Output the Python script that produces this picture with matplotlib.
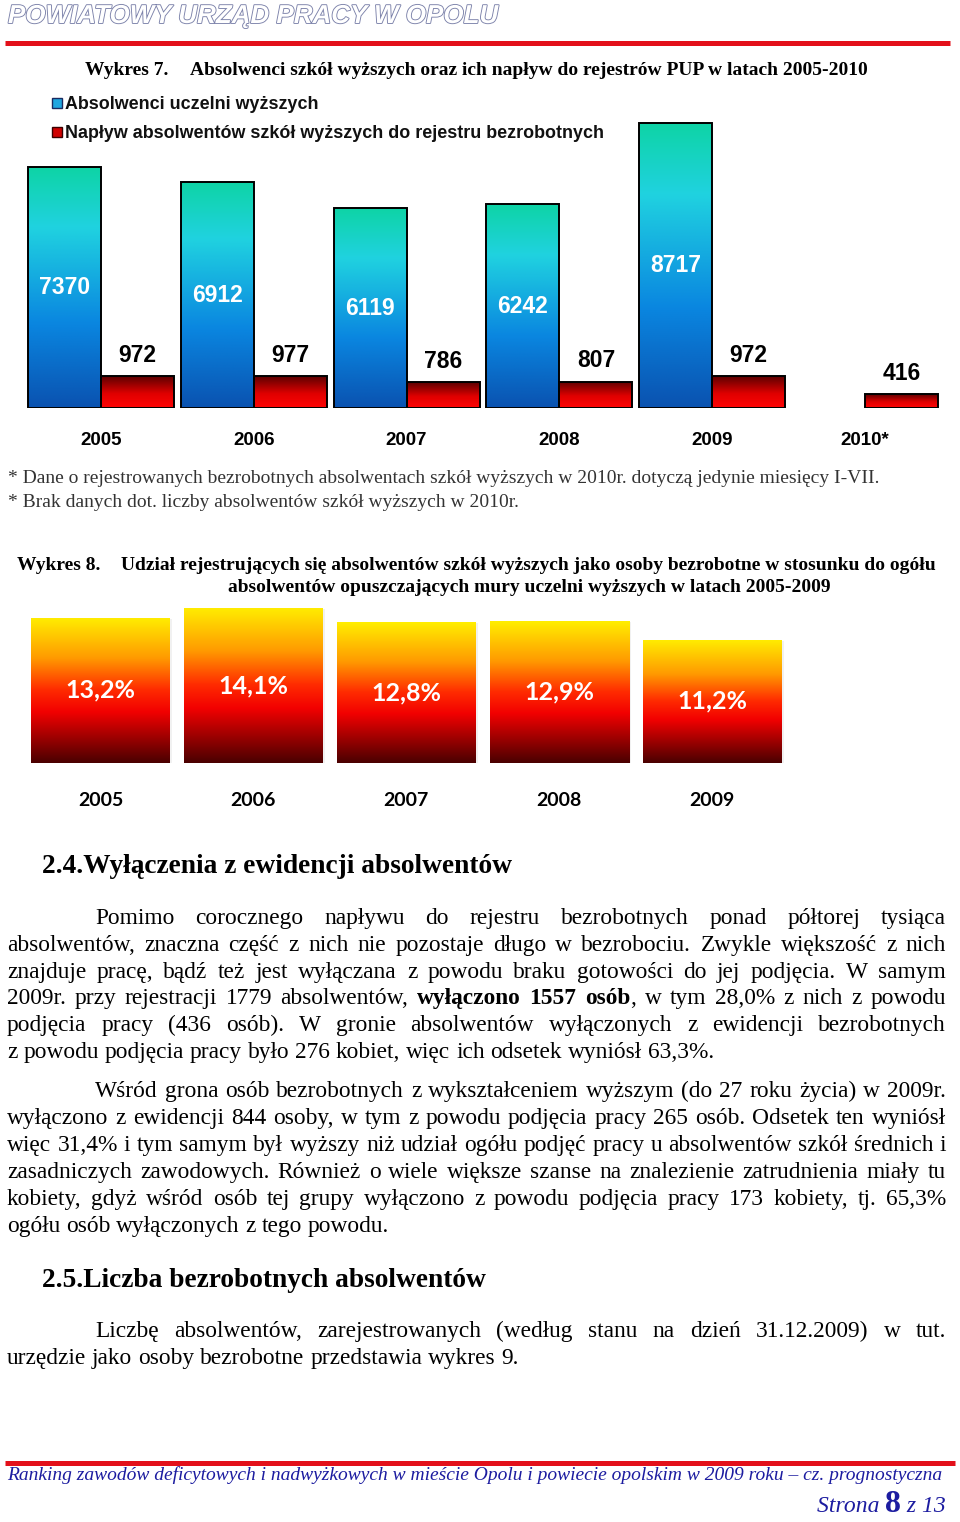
import numpy as np
import matplotlib
matplotlib.use('Agg')
import matplotlib.pyplot as plt
from matplotlib import patheffects
from matplotlib.colors import LinearSegmentedColormap
from matplotlib.patches import Rectangle
from matplotlib.lines import Line2D

# chart 7 data
years1 = ['2005', '2006', '2007', '2008', '2009', '2010*']
graduates = [7370, 6912, 6119, 6242, 8717, np.nan]
inflow = [972, 977, 786, 807, 972, 416]

# chart 8 data
years2 = ['2005', '2006', '2007', '2008', '2009']
share = [13.2, 14.1, 12.8, 12.9, 11.2]
share_labels = ['13,2%', '14,1%', '12,8%', '12,9%', '11,2%']

W, H = 960, 1522
fig = plt.figure(figsize=(9.6, 15.22), dpi=100)
renderer = fig.canvas.get_renderer()


def fx(x):
    return x / W


def fy(y):
    return 1 - y / H


SERIF = 'Liberation Serif'
SANS = 'Liberation Sans'

blue_cmap = LinearSegmentedColormap.from_list(
    'blue', [(0, '#0a52b0'), (0.35, '#0a86e0'), (0.75, '#20d2e0'), (1, '#0ed4a6')])
red_cmap = LinearSegmentedColormap.from_list(
    'red', [(0, '#ff0505'), (0.45, '#e00000'), (1, '#5c0000')])
fire_cmap = LinearSegmentedColormap.from_list(
    'fire', [(0, '#4a0000'), (0.35, '#f20000'), (0.5, '#ff2a00'), (0.72, '#ff9a00'), (1, '#ffee00')])


def gradient_bars(ax, bars, cmap, z=2):
    grad = np.linspace(0, 1, 256).reshape(-1, 1)
    for b in bars:
        h = b.get_height()
        if not np.isfinite(h) or h == 0:
            continue
        x0, y0, w = b.get_x(), b.get_y(), b.get_width()
        im = ax.imshow(grad, extent=[x0, x0 + w, y0, y0 + h], origin='lower',
                       aspect='auto', cmap=cmap, zorder=z, interpolation='bicubic')
        im.set_clip_path(b)


def hline(x0, x1, y, lw, color):
    fig.add_artist(Line2D([fx(x0), fx(x1)], [fy(y), fy(y)], transform=fig.transFigure,
                          color=color, linewidth=lw * 72 / 100, solid_capstyle='butt'))


def text_line(line, x0, x1, y, size, justify=True, family=SERIF, color='black'):
    words = []
    bold = False
    for token in line.split(' '):
        parts = token.split('**')
        segs = []
        for k, p in enumerate(parts):
            if k > 0:
                bold = not bold
            if p:
                segs.append((p, 'bold' if bold else 'normal'))
        words.append(segs)
    arts, widths = [], []
    for segs in words:
        ws = []
        for s, wt in segs:
            t = fig.text(0, fy(y), s, fontsize=size, family=family, weight=wt,
                         va='baseline', ha='left', color=color)
            ws.append((t, t.get_window_extent(renderer).width))
        arts.append(ws)
        widths.append(sum(w for _, w in ws))
    gap = size * 100 / 72 * 0.25
    if justify and len(words) > 1:
        gap = (x1 - x0 - sum(widths)) / (len(words) - 1)
    x = x0
    for ws in arts:
        for t, w in ws:
            t.set_x(fx(x))
            x += w
        x += gap


def paragraph(lines, y0, step, size=16.8, x0=7, x1=946, indent=95):
    for i, ln in enumerate(lines):
        last = i == len(lines) - 1
        text_line(ln, indent if i == 0 else x0, x1, y0 + i * step, size, justify=not last)


# header
fig.text(fx(8), fy(23), 'POWIATOWY URZĄD PRACY W OPOLU', fontsize=18.7, family=SANS,
         weight='bold', style='italic', color='white', va='baseline',
         path_effects=[patheffects.withStroke(linewidth=1.3, foreground='#7c82aa')])
hline(5, 950, 42.5, 5, '#e3101a')

# ---------- Wykres 7 ----------
fig.text(fx(85), fy(75), 'Wykres 7.', fontsize=14, family=SERIF, weight='bold', va='baseline')
fig.text(fx(190), fy(75), 'Absolwenci szkół wyższych oraz ich napływ do rejestrów PUP w latach 2005-2010',
         fontsize=14, family=SERIF, weight='bold', va='baseline')

fig.add_artist(Rectangle((fx(52), fy(108)), fx(10), 10 / H, transform=fig.transFigure,
                         facecolor='#1fa6e0', edgecolor='#1a2a60', linewidth=1))
fig.add_artist(Rectangle((fx(52), fy(137)), fx(10), 10 / H, transform=fig.transFigure,
                         facecolor='#d00000', edgecolor='#3a0000', linewidth=1))
fig.text(fx(65), fy(109), 'Absolwenci uczelni wyższych', fontsize=12.9, family=SANS,
         weight='bold', va='baseline', color='#111111')
fig.text(fx(65), fy(138), 'Napływ absolwentów szkół wyższych do rejestru bezrobotnych',
         fontsize=12.9, family=SANS, weight='bold', va='baseline', color='#111111')

sp1 = 152.8
ax1 = fig.add_axes([0, fy(408), 1, (408 - 114) / H])
ax1.set_xlim(-101 / sp1, (W - 101) / sp1)
ax1.set_ylim(0, 9000)
idx1 = np.arange(len(years1))
bw1 = 73 / sp1
g_mask = np.isfinite(graduates)
b_blue = ax1.bar(idx1[g_mask], np.array(graduates)[g_mask], -bw1, align='edge',
                 facecolor='none', edgecolor='black', linewidth=1.4, zorder=3)
b_red = ax1.bar(idx1, inflow, bw1, align='edge', facecolor='none',
                edgecolor='black', linewidth=1.4, zorder=3)
gradient_bars(ax1, b_blue, blue_cmap)
gradient_bars(ax1, b_red, red_cmap)
ax1.set_xlim(-101 / sp1, (W - 101) / sp1)
ax1.set_ylim(0, 9000)
for i, v in zip(idx1[g_mask], np.array(graduates)[g_mask]):
    ax1.text(i - bw1 / 2, v / 2, f'{int(v)}', ha='center', va='center', color='white',
             fontsize=16.5, family=SANS, weight='bold', zorder=4)
for i, v in zip(idx1, inflow):
    ax1.annotate(f'{v}', (i + bw1 / 2, v), xytext=(0, 15), textcoords='offset points',
                 ha='center', va='center', fontsize=16.5, family=SANS, weight='bold', zorder=4)
ax1.set_xticks(idx1, years1)
ax1.tick_params(axis='x', length=0, pad=17, labelsize=13.5)
for lb in ax1.get_xticklabels():
    lb.set_family(SANS)
    lb.set_fontweight('bold')
ax1.set_yticks([])
for s in ax1.spines.values():
    s.set_visible(False)
ax1.patch.set_alpha(0)

fig.text(fx(8), fy(483), '* Dane o rejestrowanych bezrobotnych absolwentach szkół wyższych w 2010r. '
         'dotyczą jedynie miesięcy I-VII.', fontsize=14, family=SERIF, va='baseline', color='#333333')
fig.text(fx(8), fy(507), '* Brak danych dot. liczby absolwentów szkół wyższych w 2010r.',
         fontsize=14, family=SERIF, va='baseline', color='#333333')

# ---------- Wykres 8 ----------
fig.text(fx(17), fy(570), 'Wykres 8.', fontsize=14, family=SERIF, weight='bold', va='baseline')
fig.text(fx(121), fy(570), 'Udział rejestrujących się absolwentów szkół wyższych jako osoby '
         'bezrobotne w stosunku do ogółu', fontsize=14, family=SERIF, weight='bold', va='baseline')
fig.text(fx(529), fy(592), 'absolwentów opuszczających mury uczelni wyższych w latach 2005-2009',
         fontsize=14, family=SERIF, weight='bold', va='baseline', ha='center')

sp2 = 152.9
ax2 = fig.add_axes([0, fy(763), 1, (763 - 600) / H])
ax2.set_xlim(-100.5 / sp2, (W - 100.5) / sp2)
ax2.set_ylim(0, 163 / 11)
idx2 = np.arange(len(years2))
bw2 = 139 / sp2
ax2.bar(idx2 + 0.008, share, bw2 + 0.016, bottom=-0.1, color='#d8d8d8', alpha=0.35,
        linewidth=0, zorder=1)
b_fire = ax2.bar(idx2, share, bw2, facecolor='none', edgecolor='none', zorder=3)
gradient_bars(ax2, b_fire, fire_cmap)
ax2.set_xlim(-100.5 / sp2, (W - 100.5) / sp2)
ax2.set_ylim(0, 163 / 11)
for i, v, lab in zip(idx2, share, share_labels):
    ax2.text(i, v / 2, lab, ha='center', va='center', color='white', fontsize=18,
             family='Lato', weight='bold', zorder=4)
ax2.set_xticks(idx2, years2)
ax2.tick_params(axis='x', length=0, pad=21, labelsize=14)
for lb in ax2.get_xticklabels():
    lb.set_family('Lato')
    lb.set_fontweight('bold')
ax2.set_yticks([])
for s in ax2.spines.values():
    s.set_visible(False)
ax2.patch.set_alpha(0)

# ---------- text ----------
fig.text(fx(42), fy(873), '2.4.Wyłączenia z ewidencji absolwentów', fontsize=19.7,
         family=SERIF, weight='bold', va='baseline')

para1 = [
    'Pomimo corocznego napływu do rejestru bezrobotnych ponad półtorej tysiąca',
    'absolwentów, znaczna część z nich nie pozostaje długo w bezrobociu. Zwykle większość z nich',
    'znajduje pracę, bądź też jest wyłączana z powodu braku gotowości do jej podjęcia. W samym',
    '2009r. przy rejestracji 1779 absolwentów, **wyłączono 1557 osób**, w tym 28,0% z nich z powodu',
    'podjęcia pracy (436 osób). W gronie absolwentów wyłączonych z ewidencji bezrobotnych',
    'z powodu podjęcia pracy było 276 kobiet, więc ich odsetek wyniósł 63,3%.',
]
para2 = [
    'Wśród grona osób bezrobotnych z wykształceniem wyższym (do 27 roku życia) w 2009r.',
    'wyłączono z ewidencji 844 osoby, w tym z powodu podjęcia pracy 265 osób. Odsetek ten wyniósł',
    'więc 31,4% i tym samym był wyższy niż udział ogółu podjęć pracy u absolwentów szkół średnich i',
    'zasadniczych zawodowych. Również o wiele większe szanse na znalezienie zatrudnienia miały tu',
    'kobiety, gdyż wśród osób tej grupy wyłączono z powodu podjęcia pracy 173 kobiety, tj. 65,3%',
    'ogółu osób wyłączonych z tego powodu.',
]
para3 = [
    'Liczbę absolwentów, zarejestrowanych (według stanu na dzień 31.12.2009) w tut.',
    'urzędzie jako osoby bezrobotne przedstawia wykres 9.',
]
paragraph(para1, 924, 26.8)
paragraph(para2, 1097, 27)
fig.text(fx(42), fy(1287), '2.5.Liczba bezrobotnych absolwentów', fontsize=19.7,
         family=SERIF, weight='bold', va='baseline')
paragraph(para3, 1337, 27)

# footer
hline(5, 955, 1462.5, 5, '#e3101a')
navy = '#1c1ca0'
fig.text(fx(7), fy(1480), 'Ranking zawodów deficytowych i nadwyżkowych w mieście Opolu i powiecie '
         'opolskim w 2009 roku – cz. prognostyczna', fontsize=14, family=SERIF,
         style='italic', color=navy, va='baseline')
t13 = fig.text(fx(946), fy(1512), ' z 13', fontsize=17, family=SERIF, style='italic',
               color=navy, va='baseline', ha='right')
w13 = t13.get_window_extent(renderer).width
t8 = fig.text(fx(946 - w13), fy(1512), '8', fontsize=23, family=SERIF, weight='bold',
              color=navy, va='baseline', ha='right')
w8 = t8.get_window_extent(renderer).width
fig.text(fx(946 - w13 - w8), fy(1512), 'Strona ', fontsize=17, family=SERIF, style='italic',
         color=navy, va='baseline', ha='right')

fig.savefig('out.png', dpi=100)
